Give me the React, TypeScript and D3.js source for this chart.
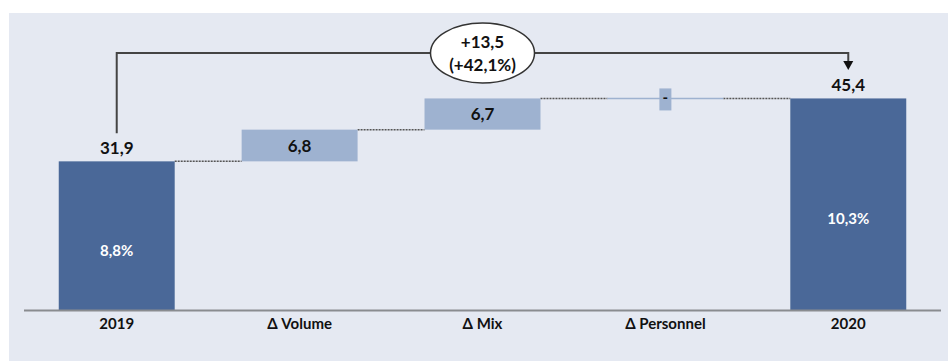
import * as d3 from 'd3';

const categories = ['2019', 'Δ Volume', 'Δ Mix', 'Δ Personnel', '2020'];
const values = [31.9, 6.8, 6.7, 0, 45.4];
const kinds = ['total', 'delta', 'delta', 'delta', 'total'];
const valueLabels = ['31,9', '6,8', '6,7', '-', '45,4'];
const innerLabels = ['8,8%', '', '', '', '10,3%'];
const totalChange = '+13,5';
const totalChangePct = '(+42,1%)';

const W = 948, H = 361;
const DARK = '#4a6898';
const LIGHT = '#9eb2d0';
const BG = '#e5e9f2';
const FONT = 'Lato, "Open Sans", sans-serif';

export default function App() {
  const x = d3.scaleBand<string>()
    .domain(categories)
    .range([24, 941])
    .paddingInner(0.366)
    .paddingOuter(0.19);
  const y = d3.scaleLinear().domain([0, 50]).range([310, 77]);
  const bw = x.bandwidth();

  // running totals for the waterfall
  let run = 0;
  const bars = categories.map((c, i) => {
    let lo: number, hi: number;
    if (kinds[i] === 'total') { lo = 0; hi = values[i]; run = values[i]; }
    else { lo = run; hi = run + values[i]; run = hi; }
    return { c, i, lo, hi, end: run };
  });

  const cx = (c: string) => (x(c) ?? 0) + bw / 2;
  const first = cx(categories[0]);
  const last = cx(categories[categories.length - 1]);
  const bracketY = 53;
  const mid = cx(categories[2]);

  return (
    <svg width={W} height={H} style={{ position: 'absolute', left: 0, top: 0 }} fontFamily={FONT}>
      <rect x={0} y={0} width={W} height={H} fill="#fff" />
      <rect x={9} y={13} width={W - 9} height={H - 13} fill={BG} />

      {/* connectors */}
      {bars.slice(0, -1).map((b, i) => {
        const next = bars[i + 1];
        const yy = y(b.end);
        return (
          <line key={'c' + i} x1={(x(b.c) ?? 0) + bw} x2={x(next.c) ?? 0} y1={yy} y2={yy}
            stroke="#555" strokeWidth={1.5} strokeDasharray="2,1" />
        );
      })}

      {bars.map(b => {
        const top = y(b.hi), bot = y(b.lo);
        const x0 = x(b.c) ?? 0;
        const isTotal = kinds[b.i] === 'total';
        if (b.hi === b.lo) {
          return (
            <g key={b.c}>
              <line x1={x0} x2={x0 + bw} y1={top} y2={top} stroke={LIGHT} strokeWidth={1.5} />
              <rect x={x0 + bw / 2 - 6} y={top - 10} width={12} height={22} fill={LIGHT} />
              <text x={x0 + bw / 2} y={top + 5} textAnchor="middle" fontSize={15} fontWeight="bold" fill="#111">
                {valueLabels[b.i]}
              </text>
            </g>
          );
        }
        return (
          <g key={b.c}>
            <rect x={x0} y={top} width={bw} height={bot - top} fill={isTotal ? DARK : LIGHT} />
            {isTotal ? (
              <>
                <text x={x0 + bw / 2} y={top - 7} textAnchor="middle" fontSize={17} fontWeight="bold" fill="#111">
                  {valueLabels[b.i]}
                </text>
                <text x={x0 + bw / 2} y={(top + bot) / 2 + 20} textAnchor="middle" fontSize={15} fontWeight="bold" fill="#fff">
                  {innerLabels[b.i]}
                </text>
              </>
            ) : (
              <text x={x0 + bw / 2} y={(top + bot) / 2 + 6} textAnchor="middle" fontSize={17} fontWeight="bold" fill="#111">
                {valueLabels[b.i]}
              </text>
            )}
          </g>
        );
      })}

      {/* axis */}
      <line x1={24} x2={941} y1={310.5} y2={310.5} stroke="#8a8c90" strokeWidth={2} />
      {categories.map(c => (
        <text key={'t' + c} x={cx(c)} y={329} textAnchor="middle" fontSize={15} fontWeight="bold" fill="#111">
          {c}
        </text>
      ))}

      {/* total change bracket */}
      <path d={`M${first},${y(values[0]) - 28}V${bracketY}H${last}V${bracketY + 9}`}
        fill="none" stroke="#444" strokeWidth={2} />
      <path d={`M${last - 5},${bracketY + 8}H${last + 5}L${last},${bracketY + 17}Z`} fill="#111" />
      <ellipse cx={mid} cy={bracketY} rx={52} ry={30} fill="#fff" stroke="#333" strokeWidth={1.5} />
      <text x={mid} y={bracketY - 5} textAnchor="middle" fontSize={17} fontWeight="bold" fill="#111">{totalChange}</text>
      <text x={mid} y={bracketY + 18} textAnchor="middle" fontSize={17} fontWeight="bold" fill="#111">{totalChangePct}</text>
    </svg>
  );
}
